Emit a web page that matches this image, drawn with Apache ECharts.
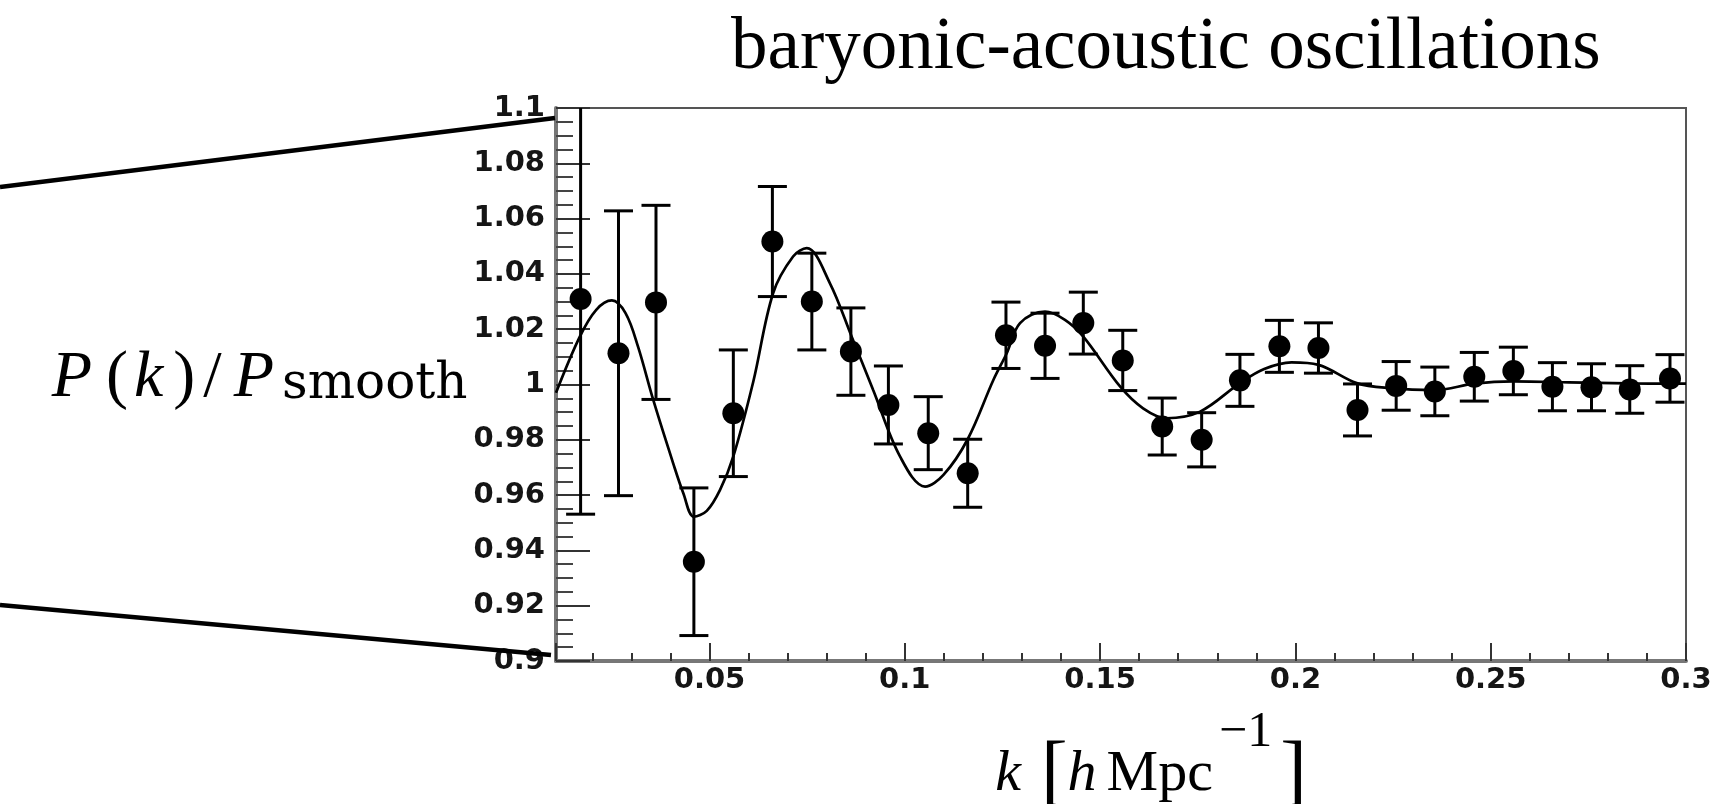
<!DOCTYPE html>
<html>
<head>
<meta charset="utf-8">
<script src="https://cdn.jsdelivr.net/npm/echarts@6/dist/echarts.min.js"></script>
<style>
html,body{margin:0;padding:0;background:#fff;}
#chart{width:1711px;height:804px;}
</style>
</head>
<body>
<div id="chart"></div>
<script>
// ---- data ----
const kValues = [0.0170,0.0267,0.0363,0.0460,0.0561,0.0661,0.0762,0.0862,0.0958,0.1060,0.1161,0.1259,0.1359,0.1457,0.1558,0.1659,0.1760,0.1858,0.1959,0.2059,0.2159,0.2258,0.2357,0.2458,0.2558,0.2658,0.2758,0.2856,0.2959];
const ratioValues = [1.0309,1.0113,1.0297,0.9359,0.9896,1.0517,1.0300,1.0119,0.9926,0.9824,0.9679,1.0178,1.0140,1.0222,1.0087,0.9848,0.9800,1.0015,1.0138,1.0132,0.9908,0.9995,0.9975,1.0028,1.0049,0.9992,0.9990,0.9982,1.0022];
const errValues = [0.0778,0.0515,0.0351,0.0267,0.0229,0.0199,0.0175,0.0158,0.0141,0.0132,0.0123,0.0120,0.0118,0.0112,0.0109,0.0103,0.0098,0.0094,0.0094,0.0091,0.0094,0.0088,0.0088,0.0088,0.0086,0.0087,0.0085,0.0086,0.0086];
const curveK = [0.0107,0.0168,0.0210,0.0250,0.0285,0.0317,0.0356,0.0407,0.0433,0.0460,0.0493,0.0527,0.0561,0.0612,0.0663,0.0714,0.0749,0.0808,0.0864,0.0919,0.0988,0.1052,0.1099,0.1161,0.1227,0.1261,0.1295,0.1359,0.1410,0.1457,0.1551,0.1610,0.1670,0.1756,0.1858,0.1920,0.1990,0.2059,0.2157,0.2242,0.2357,0.2458,0.2558,0.2700,0.2850,0.3000];
const curveRatio = [0.9970,1.0173,1.0270,1.0304,1.0258,1.0137,0.9944,0.9715,0.9607,0.9522,0.9543,0.9619,0.9740,1.0010,1.0331,1.0463,1.0493,1.0367,1.0173,0.9980,0.9739,0.9631,0.9673,0.9802,1.0017,1.0113,1.0222,1.0264,1.0234,1.0173,0.9993,0.9914,0.9878,0.9902,1.0005,1.0056,1.0080,1.0071,1.0005,0.9987,0.9980,1.0003,1.0011,1.0008,1.0004,1.0003];
const titleText = 'baryonic-acoustic oscillations';
const xRange = [0.0107, 0.3];
const yRange = [0.9, 1.1];

// ---- build series data ----
const pointData = kValues.map((k, i) => [k, ratioValues[i], errValues[i]]);
const curveData = curveK.map((k, i) => [k, curveRatio[i]]);

const chart = echarts.init(document.getElementById('chart'), null, {renderer: 'canvas'});

const tickFont = {fontFamily: 'DejaVu Sans', fontWeight: 'bold', fontSize: 29, color: '#151515'};
const serif = 'Liberation Serif';

const option = {
  backgroundColor: '#ffffff',
  animation: false,
  title: {
    text: titleText,
    left: 726,
    top: 7,
    textStyle: {fontFamily: serif, fontWeight: 'normal', fontSize: 73, color: '#000'}
  },
  grid: {
    left: 556, top: 108, right: 25, bottom: 143,
    containLabel: false,
    outerBoundsMode: 'none',
    show: true, borderColor: '#555', borderWidth: 2, backgroundColor: 'transparent'
  },
  xAxis: {
    type: 'value',
    min: xRange[0], max: xRange[1],
    splitNumber: 6, minInterval: 0.05, maxInterval: 0.05,
    axisLine: {show: true, onZero: false, lineStyle: {color: '#777', width: 4}},
    axisTick: {show: true, inside: true, length: 18, lineStyle: {color: '#333', width: 2}},
    minorTick: {show: true, splitNumber: 5, length: 8, lineStyle: {color: '#333', width: 2}},
    splitLine: {show: false},
    axisLabel: Object.assign({margin: 5, showMinLabel: false, showMaxLabel: true,
      formatter: v => String(+v.toFixed(3))}, tickFont),
    name: '{k|k}{lb|[}{h|h}{m|Mpc}{sup|−1}{rb|]}',
    nameLocation: 'middle',
    nameGap: 69,
    nameTextStyle: {
      rich: {
        k: {fontFamily: serif, fontStyle: 'italic', fontSize: 58, lineHeight: 90, color: '#000', padding: [0, 20, 0, 60]},
        lb: {fontFamily: serif, fontSize: 80, lineHeight: 90, color: '#000'},
        h: {fontFamily: serif, fontStyle: 'italic', fontSize: 58, lineHeight: 90, color: '#000', padding: [0, 10, 0, 0]},
        m: {fontFamily: serif, fontSize: 58, lineHeight: 90, color: '#000', padding: [0, 6, 0, 0]},
        sup: {fontFamily: serif, fontSize: 50, lineHeight: 6, color: '#000', padding: [0, 8, 84, 0]},
        rb: {fontFamily: serif, fontSize: 80, lineHeight: 90, color: '#000'}
      }
    }
  },
  yAxis: {
    type: 'value',
    min: yRange[0], max: yRange[1], interval: 0.02,
    axisLine: {show: true, onZero: false, lineStyle: {color: '#777', width: 4}},
    axisTick: {show: true, inside: true, length: 34, lineStyle: {color: '#333', width: 2}},
    minorTick: {show: true, splitNumber: 4, length: 17, lineStyle: {color: '#444', width: 2}},
    splitLine: {show: false},
    axisLabel: Object.assign({margin: 11, formatter: v => String(+v.toFixed(2))}, tickFont),
    name: '{p1|P}{lp|(}{k|k}{rp|)}{sl|/}{p2|P}{s|smooth}',
    nameLocation: 'middle',
    nameRotate: 0,
    nameGap: 87,
    nameTextStyle: {
      align: 'right',
      verticalAlign: 'middle',
      padding: [0, 0, 11, 0],
      rich: {
        p1: {fontFamily: serif, fontStyle: 'italic', fontSize: 66, lineHeight: 80, color: '#000', padding: [0, 14, 0, 0]},
        lp: {fontFamily: serif, fontSize: 66, lineHeight: 80, color: '#000', padding: [0, 6, 0, 0]},
        k: {fontFamily: serif, fontStyle: 'italic', fontSize: 66, lineHeight: 80, color: '#000', padding: [0, 10, 0, 0]},
        rp: {fontFamily: serif, fontSize: 66, lineHeight: 80, color: '#000', padding: [0, 8, 0, 0]},
        sl: {fontFamily: serif, fontSize: 66, lineHeight: 80, color: '#000', padding: [0, 12, 0, 0]},
        p2: {fontFamily: serif, fontStyle: 'italic', fontSize: 66, lineHeight: 80, color: '#000', padding: [0, 8, 0, 0]},
        s: {fontFamily: 'DejaVu Serif', fontSize: 50, lineHeight: 68, color: '#000', padding: [12, 0, 0, 0]}
      }
    }
  },
  graphic: [
    {type: 'line', z: 100, shape: {x1: 0, y1: 187, x2: 555, y2: 118}, style: {stroke: '#000', lineWidth: 4.5}},
    {type: 'line', z: 100, shape: {x1: 0, y1: 605, x2: 551, y2: 655}, style: {stroke: '#000', lineWidth: 4.5}}
  ],
  series: [
    {
      type: 'line',
      name: 'fit',
      data: curveData,
      smooth: 0.35,
      showSymbol: false,
      clip: true,
      lineStyle: {color: '#000', width: 2.7},
      z: 2
    },
    {
      type: 'custom',
      name: 'errors',
      data: pointData,
      clip: true,
      encode: {x: 0, y: 1},
      renderItem: function (params, api) {
        const x = api.value(0), y = api.value(1), e = api.value(2);
        const top = api.coord([x, y + e]);
        const bot = api.coord([x, y - e]);
        const hw = 14.5;
        const st = {stroke: '#000', lineWidth: 3, fill: null};
        return {
          type: 'group',
          children: [
            {type: 'line', shape: {x1: top[0], y1: top[1], x2: bot[0], y2: bot[1]}, style: st},
            {type: 'line', shape: {x1: top[0] - hw, y1: top[1], x2: top[0] + hw, y2: top[1]}, style: st},
            {type: 'line', shape: {x1: bot[0] - hw, y1: bot[1], x2: bot[0] + hw, y2: bot[1]}, style: st}
          ]
        };
      },
      z: 3
    },
    {
      type: 'scatter',
      name: 'data',
      data: pointData.map(d => [d[0], d[1]]),
      symbol: 'circle',
      symbolSize: 22,
      itemStyle: {color: '#000', opacity: 1},
      z: 4
    }
  ]
};
chart.setOption(option);
</script>
</body>
</html>
